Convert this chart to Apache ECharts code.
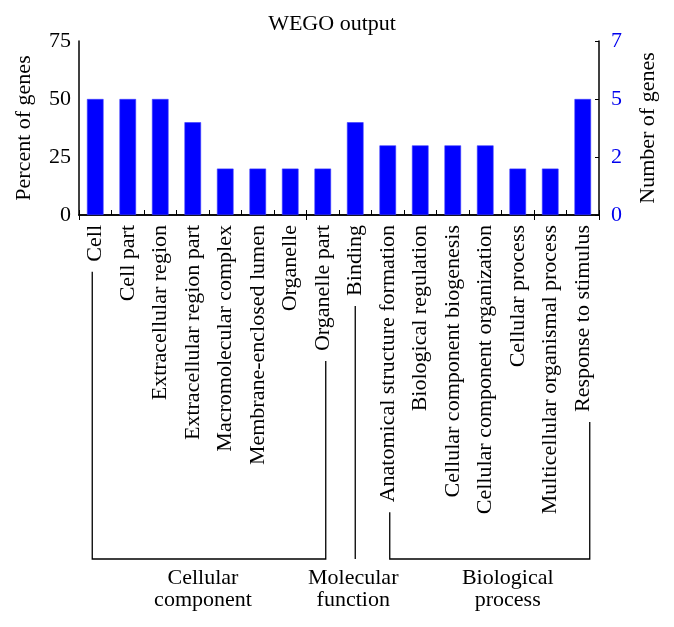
<!DOCTYPE html>
<html>
<head>
<meta charset="utf-8">
<script src="https://cdn.jsdelivr.net/npm/echarts@6/dist/echarts.min.js"></script>
<style>
html,body{margin:0;padding:0;background:#fff;}
#c{width:674px;height:627px;}
</style>
</head>
<body>
<div id="c"></div>
<script>
var categories = ['Cell','Cell part','Extracellular region','Extracellular region part','Macromolecular complex','Membrane-enclosed lumen','Organelle','Organelle part','Binding','Anatomical structure formation','Biological regulation','Cellular component biogenesis','Cellular component organization','Cellular process','Multicellular organismal process','Response to stimulus'];
var percentValues = [50,50,50,40,20,20,20,20,40,30,30,30,30,20,20,50];
var leftTicks = [0,25,50,75];
var rightTickLabels = ['0','2','5','7'];
var groupNames = ['Cellular\ncomponent','Molecular\nfunction','Biological\nprocess'];
var groupStart = [0,8,9];
var groupEnd = [7,8,15];

var FONT = 'Liberation Serif';
var FS = 22;
var chart = echarts.init(document.getElementById('c'));
var gridBottomPx = 215, labelMargin = 10;
var option = {
  animation:false,
  title:{text:'WEGO output', left:327, top:8, textAlign:'center',
    textStyle:{fontFamily:FONT,fontSize:FS,fontWeight:'normal',color:'#000'}},
  grid:{left:79,right:75,top:41,bottom:627-gridBottomPx},
  xAxis:[{
    type:'category', data:categories, position:'bottom',
    axisLine:{lineStyle:{color:'#000',width:1.5}},
    axisTick:{show:true,inside:true,length:5,lineStyle:{color:'#000'}},
    axisLabel:{rotate:90,margin:labelMargin,interval:0,fontFamily:FONT,fontSize:FS,color:'#000'}
  },{
    type:'category', data:categories, position:'top',
    axisLine:{lineStyle:{color:'#000',width:1.5}},
    axisTick:{show:true,inside:true,length:5,lineStyle:{color:'#000'}},
    axisLabel:{show:false}
  }],
  yAxis:[{
    type:'value', min:0, max:75, interval:25, position:'left',
    name:'Percent of genes', nameLocation:'middle', nameGap:44, nameRotate:90,
    nameTextStyle:{fontFamily:FONT,fontSize:FS,color:'#000'},
    axisLine:{show:true,lineStyle:{color:'#000',width:1.5}},
    axisTick:{show:false},
    splitLine:{show:false},
    axisLabel:{margin:8,fontFamily:FONT,fontSize:FS,color:'#000'}
  },{
    type:'value', min:0, max:75, interval:25, position:'right',
    name:'Number of genes', nameLocation:'middle', nameGap:38, nameRotate:90,
    nameTextStyle:{fontFamily:FONT,fontSize:FS,color:'#000'},
    axisLine:{show:true,lineStyle:{color:'#000',width:1.5}},
    axisTick:{show:true,inside:true,length:4,lineStyle:{color:'#000'}},
    splitLine:{show:false},
    axisLabel:{margin:12,fontFamily:FONT,fontSize:FS,color:'#0000ee',
      formatter:function(v){var i=leftTicks.indexOf(v);return i>=0?rightTickLabels[i]:'';}}
  }],
  series:[{
    type:'bar', data:percentValues, barWidth:'51%', xAxisIndex:0, yAxisIndex:0,
    itemStyle:{color:'#0000ff',borderColor:'#3a3aff',borderWidth:0.6}
  }]
};
chart.setOption(option);

// brackets
var ctx = document.createElement('canvas').getContext('2d');
ctx.font = FS + 'px "' + FONT + '"';
function labelEnd(i){ return gridBottomPx + labelMargin + ctx.measureText(categories[i]).width; }
var bracketY = 559, gap = 10;
var endDx = [[-3,3],[0,0],[2,7]];
var textDx = [-6,-2,18];
var els = [];
for (var g=0; g<groupNames.length; g++){
  var xa = chart.convertToPixel({xAxisIndex:0}, categories[groupStart[g]]) + endDx[g][0];
  var xb = chart.convertToPixel({xAxisIndex:0}, categories[groupEnd[g]]) + endDx[g][1];
  var ya = labelEnd(groupStart[g]) + gap, yb = labelEnd(groupEnd[g]) + gap;
  var pts = (groupStart[g]===groupEnd[g]) ? [[xa,ya],[xa,bracketY]] : [[xa,ya],[xa,bracketY],[xb,bracketY],[xb,yb]];
  els.push({type:'polyline', shape:{points:pts}, style:{stroke:'#000',lineWidth:1.3,fill:null}, silent:true});
  els.push({type:'text', x:(xa+xb)/2 + textDx[g], y:bracketY+8,
    style:{text:groupNames[g], fill:'#000', font:FS+'px "'+FONT+'"', align:'center', verticalAlign:'top', lineHeight:22}, silent:true});
}
chart.setOption({graphic:{elements:els}});
</script>
</body>
</html>
